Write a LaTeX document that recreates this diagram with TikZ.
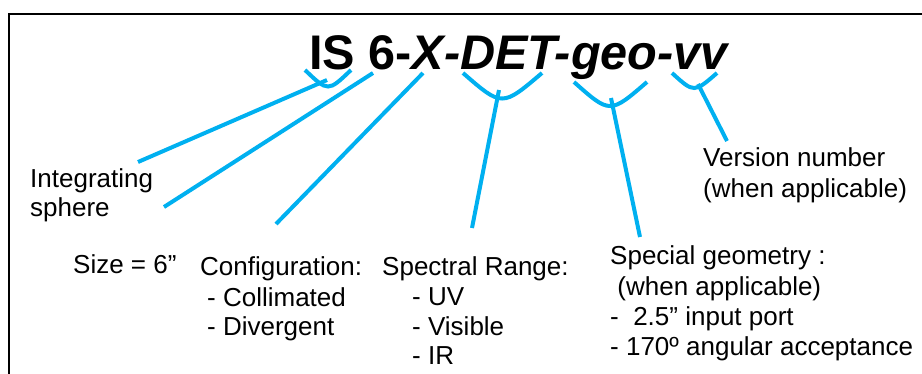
\documentclass[tikz,border=0pt]{standalone}
\usepackage{fontspec}
\setmainfont{Liberation Sans}
\definecolor{cyanline}{HTML}{00B0F0}
\begin{document}
\begin{tikzpicture}[x=1pt,y=-1pt,
  lbl/.style={anchor=base west,inner sep=0pt,font=\fontsize{26}{30}\selectfont},
  brace/.style={draw=cyanline,line width=4pt},
  link/.style={draw=cyanline,line width=4pt}]
\useasboundingbox (0,0) rectangle (922,373);
% frame
\draw[line width=2pt] (9,374) -- (9,14) -- (923,14);
% title
\node[anchor=base west,inner sep=0pt,font=\fontsize{48.6}{56}\selectfont\bfseries] (title) at (309,69)
  {IS 6-\textit{X-DET-geo-vv}};
% braces
\draw[brace] (305,70) .. controls (328,92) .. (351,70);
\draw[brace] (463,73) .. controls (502,107) .. (542,73);
\draw[brace] (574,82) .. controls (610,114) .. (647,82);
\draw[brace] (672,73) .. controls (694,93) .. (717,73);
% coordinates on braces
\coordinate (b1) at (327,80);
\coordinate (b2) at (373,73);
\coordinate (b3) at (423,73);
\coordinate (b4) at (499,90);
\coordinate (b5) at (611,98);
\coordinate (b6) at (698,84);
% connector ends
\coordinate (e1) at (138,162);
\coordinate (e2) at (164,207);
\coordinate (e3) at (276,224);
\coordinate (e4) at (472,228);
\coordinate (e5) at (640,237);
\coordinate (e6) at (727,141);
\draw[link] (b1) -- (e1);
\draw[link] (b2) -- (e2);
\draw[link] (b3) -- (e3);
\draw[link] (b4) -- (e4);
\draw[link] (b5) -- (e5);
\draw[link] (b6) -- (e6);
% labels
\node[lbl] (is1) at (30,187) {Integrating};
\node[lbl] (is2) at (30,216) {sphere};
\node[lbl] (size) at (73,273) {Size = 6”};
\node[lbl] (cf1) at (200,275) {Configuration:};
\node[lbl] (cf2) at (207,306) {- Collimated};
\node[lbl] (cf3) at (207,335) {- Divergent};
\node[lbl] (sr1) at (382,275) {Spectral Range:};
\node[lbl] (sr2) at (412,305) {- UV};
\node[lbl] (sr3) at (412,335) {- Visible};
\node[lbl] (sr4) at (412,364) {- IR};
\node[lbl] (sg1) at (610,264) {Special geometry :};
\node[lbl] (sg2) at (610,295) {\ (when applicable)};
\node[lbl] (sg3) at (610,325) {-\ \ 2.5” input port};
\node[lbl] (sg4) at (610,355) {- 170º angular acceptance};
\node[lbl] (vn1) at (703,166) {Version number};
\node[lbl] (vn2) at (703,197) {(when applicable)};
\end{tikzpicture}
\end{document}
